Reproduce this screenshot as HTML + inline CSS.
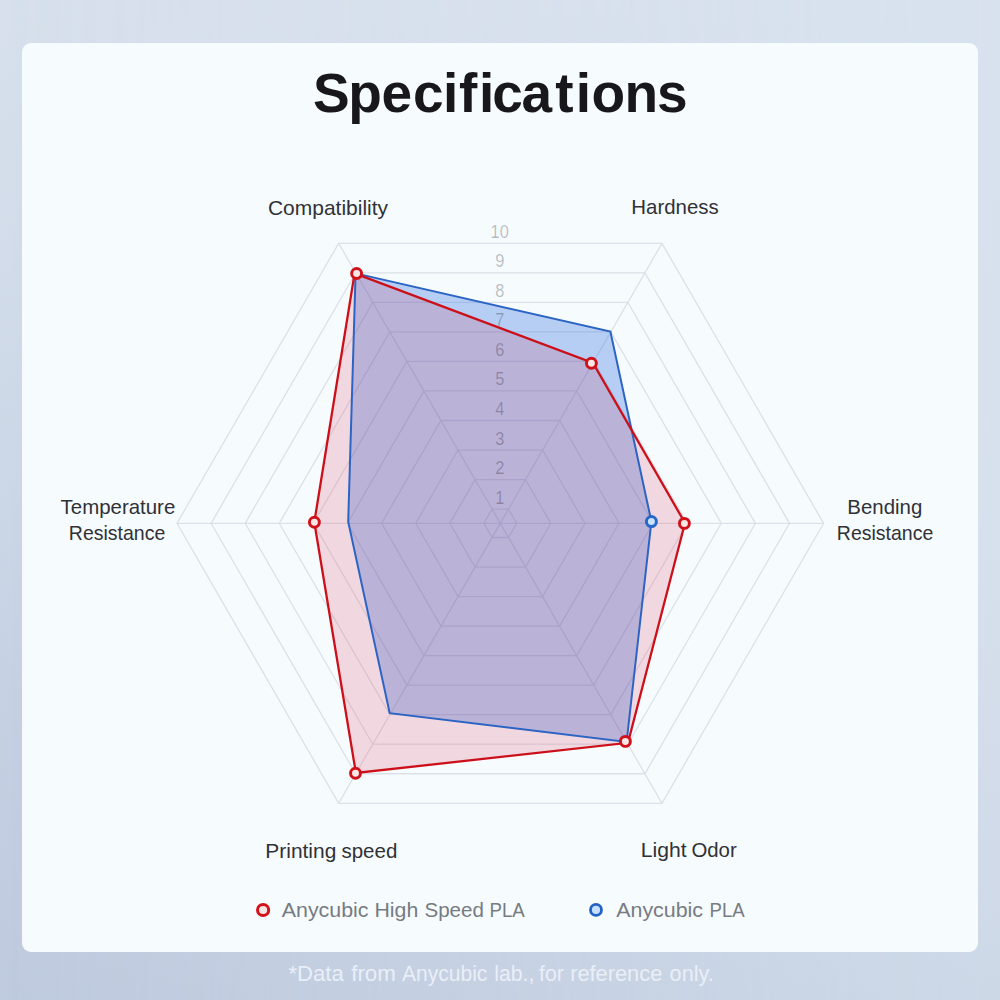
<!DOCTYPE html>
<html lang="en">
<head>
<meta charset="utf-8">
<title>Specifications</title>
<style>
html,body{margin:0;padding:0;}
body{width:1000px;height:1000px;overflow:hidden;position:relative;font-family:"Liberation Sans",sans-serif;background:#d3dcea;}
.bg{position:absolute;left:0;top:0;width:1000px;height:1000px;background:linear-gradient(to bottom,#d7e0ec 0%,#d2dcea 25%,#cbd6e6 50%,#c4cfe2 75%,#becade 100%);}
.bg2{position:absolute;left:0;top:0;width:1000px;height:1000px;background:linear-gradient(to bottom,#d8e1ee 0%,#d7e1ed 50%,#d3dcea 75%,#cdd8e7 100%);-webkit-mask-image:linear-gradient(to right,transparent,#000);mask-image:linear-gradient(to right,transparent,#000);}
.card{position:absolute;left:22px;top:43px;width:956px;height:909px;border-radius:9px;background:#f6fbfe;}
svg{position:absolute;left:0;top:0;width:1000px;height:1000px;}
text{font-family:"Liberation Sans",sans-serif;}
</style>
</head>
<body>
<div class="bg"></div>
<div class="bg2"></div>
<div class="card"></div>
<svg viewBox="0 0 1000 1000">
  <text x="313 348.2 381.6 413 443 458.9 479 492.2 521.6 555.2 575.8 591.6 624.6 656.9" y="112" font-size="55" font-weight="bold" fill="#18181b" style="font-variant-ligatures:none">Specifications</text>

  <g fill="none" stroke="#dce1e9" stroke-width="1.3">
    <polygon points="492.1,509.1 508.5,509.1 516.7,523.3 508.5,537.5 492.1,537.5 483.9,523.3"/>
    <polygon points="475.05,479.57 525.55,479.57 550.8,523.3 525.55,567.03 475.05,567.03 449.8,523.3"/>
    <polygon points="458,450.03 542.6,450.03 584.9,523.3 542.6,596.57 458,596.57 415.7,523.3"/>
    <polygon points="440.95,420.5 559.65,420.5 619,523.3 559.65,626.1 440.95,626.1 381.6,523.3"/>
    <polygon points="423.9,390.97 576.7,390.97 653.1,523.3 576.7,655.63 423.9,655.63 347.5,523.3"/>
    <polygon points="406.85,361.44 593.75,361.44 687.2,523.3 593.75,685.16 406.85,685.16 313.4,523.3"/>
    <polygon points="389.8,331.91 610.8,331.91 721.3,523.3 610.8,714.69 389.8,714.69 279.3,523.3"/>
    <polygon points="372.75,302.38 627.85,302.38 755.4,523.3 627.85,744.22 372.75,744.22 245.2,523.3"/>
    <polygon points="355.7,272.85 644.9,272.85 789.5,523.3 644.9,773.75 355.7,773.75 211.1,523.3"/>
    <polygon points="338.65,243.31 661.95,243.31 823.6,523.3 661.95,803.29 338.65,803.29 177,523.3"/>
    <line x1="500.3" y1="523.3" x2="338.65" y2="243.31"/>
    <line x1="500.3" y1="523.3" x2="661.95" y2="243.31"/>
    <line x1="500.3" y1="523.3" x2="823.6" y2="523.3"/>
    <line x1="500.3" y1="523.3" x2="661.95" y2="803.29"/>
    <line x1="500.3" y1="523.3" x2="338.65" y2="803.29"/>
    <line x1="500.3" y1="523.3" x2="177" y2="523.3"/>
  </g>


  <polygon points="355.6,273.4 610.4,331.6 651.4,521.6 626.6,742 389.7,713.2 348.2,521.6" fill="rgba(46,113,223,0.32)"/>
  <polygon points="354.6,273.4 593,362.9 685,523 628,742.8 355.9,773 314.3,522.2" fill="rgba(213,17,54,0.15)"/>

  <g font-size="18" fill="rgba(20,20,40,0.28)" text-anchor="middle" transform="translate(499.7 0) scale(0.91 1)">
    <text x="0" y="503.6">1</text>
    <text x="0" y="474.07">2</text>
    <text x="0" y="444.53">3</text>
    <text x="0" y="415">4</text>
    <text x="0" y="385.47">5</text>
    <text x="0" y="355.94">6</text>
    <text x="0" y="326.41">7</text>
    <text x="0" y="296.88">8</text>
    <text x="0" y="267.35">9</text>
    <text x="0" y="237.81">10</text>
  </g>

  <polygon points="355.6,273.4 610.4,331.6 651.4,521.6 626.6,742 389.7,713.2 348.2,521.6" fill="none" stroke="#2c64c4" stroke-width="2" stroke-linejoin="miter"/>
  <polygon points="354.6,273.4 593,362.9 685,523 628,742.8 355.9,773 314.3,522.2" fill="none" stroke="#cc1019" stroke-width="2.3" stroke-linejoin="miter"/>

  <circle cx="651.4" cy="521.6" r="5" fill="#c8e2fc" stroke="#2767c8" stroke-width="3"/>
  <g fill="#fae6e5" stroke="#d0111a" stroke-width="2.95">
    <circle cx="356.6" cy="273.5" r="4.95"/>
    <circle cx="591.4" cy="363.2" r="4.95"/>
    <circle cx="684.4" cy="523.4" r="4.95"/>
    <circle cx="625.4" cy="741.4" r="4.95"/>
    <circle cx="355.5" cy="773.2" r="4.95"/>
    <circle cx="314.4" cy="522.2" r="4.95"/>
  </g>

  <g fill="#303136">
    <text x="267.93" y="215" font-size="20.3" textLength="120.11" lengthAdjust="spacingAndGlyphs">Compatibility</text>
    <text x="631.32" y="214" font-size="20.3" textLength="87.41" lengthAdjust="spacingAndGlyphs">Hardness</text>
    <text x="60.55" y="514.4" font-size="20.3" textLength="114.74" lengthAdjust="spacingAndGlyphs">Temperature</text>
    <text x="68.8" y="539.6" font-size="20.3" textLength="96.47" lengthAdjust="spacingAndGlyphs">Resistance</text>
    <text x="847.32" y="514.4" font-size="20.3" textLength="74.99" lengthAdjust="spacingAndGlyphs">Bending</text>
    <text x="836.8" y="539.6" font-size="20.3" textLength="96.47" lengthAdjust="spacingAndGlyphs">Resistance</text>
    <text x="265.28" y="858.4" font-size="20.3" textLength="71.07" lengthAdjust="spacingAndGlyphs">Printing</text>
    <text x="341.43" y="858.4" font-size="20.3" textLength="55.89" lengthAdjust="spacingAndGlyphs">speed</text>
    <text x="640.66" y="857.4" font-size="20.3" textLength="45.89" lengthAdjust="spacingAndGlyphs">Light</text>
    <text x="691.43" y="857.4" font-size="20.3" textLength="45.3" lengthAdjust="spacingAndGlyphs">Odor</text>
  </g>

  <circle cx="263.1" cy="910" r="5.6" fill="#fae5e5" stroke="#d4121b" stroke-width="3"/>
  <circle cx="596" cy="909.9" r="5.5" fill="#c6dffc" stroke="#2162c6" stroke-width="2.8"/>
  <g fill="#777b82">
    <text x="281.76" y="916.5" font-size="20.6" textLength="86.81" lengthAdjust="spacingAndGlyphs">Anycubic</text>
    <text x="374.45" y="916.5" font-size="20.6" textLength="43.83" lengthAdjust="spacingAndGlyphs">High</text>
    <text x="424.47" y="916.5" font-size="20.6" textLength="59.46" lengthAdjust="spacingAndGlyphs">Speed</text>
    <text x="489.46" y="916.5" font-size="20.6" textLength="35.37" lengthAdjust="spacingAndGlyphs">PLA</text>
    <text x="616.26" y="916.5" font-size="20.6" textLength="86.71" lengthAdjust="spacingAndGlyphs">Anycubic</text>
    <text x="709.57" y="916.5" font-size="20.6" textLength="35.16" lengthAdjust="spacingAndGlyphs">PLA</text>
  </g>

  <g fill="#e9eef7">
    <text x="288.44" y="981.2" font-size="21.4" textLength="55.36" lengthAdjust="spacingAndGlyphs">*Data</text>
    <text x="351.18" y="981.2" font-size="21.4" textLength="44.69" lengthAdjust="spacingAndGlyphs">from</text>
    <text x="402.06" y="981.2" font-size="21.4" textLength="85.3" lengthAdjust="spacingAndGlyphs">Anycubic</text>
    <text x="494.37" y="981.2" font-size="21.4" textLength="40.03" lengthAdjust="spacingAndGlyphs">lab.,</text>
    <text x="539.1" y="981.2" font-size="21.4" textLength="24.86" lengthAdjust="spacingAndGlyphs">for</text>
    <text x="570.15" y="981.2" font-size="21.4" textLength="92.12" lengthAdjust="spacingAndGlyphs">reference</text>
    <text x="669.62" y="981.2" font-size="21.4" textLength="44.19" lengthAdjust="spacingAndGlyphs">only.</text>
  </g>
</svg>
</body>
</html>
